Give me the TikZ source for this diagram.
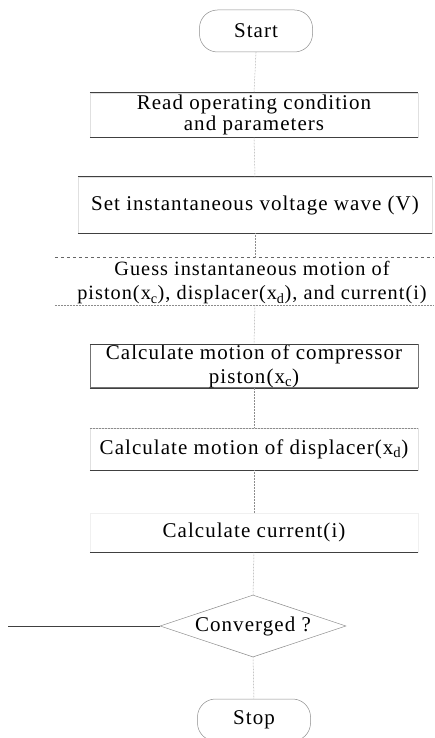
\documentclass[tikz,border=0pt]{standalone}
\usepackage{fontspec}
\setmainfont{Liberation Serif}[LetterSpace=5]
\usetikzlibrary{shapes.geometric}
\begin{document}
\begin{tikzpicture}[x=1pt,y=-1pt,
  lbl/.style={font=\fontsize{21}{24}\selectfont, align=center, inner sep=0pt, text=black},
  boxshape/.style={draw=black!12, line width=0.5pt, rectangle, inner sep=0pt, font=\fontsize{21}{24}\selectfont, align=center, text=black},
  term/.style={draw=black!45, line width=0.5pt, rounded corners=18pt, rectangle, inner sep=0pt, minimum width=113pt, minimum height=42pt, font=\fontsize{21}{24}\selectfont, text=black},
  dec/.style={draw=black!45, line width=0.5pt, diamond, aspect=3, inner sep=0pt, minimum width=186pt, minimum height=62pt, font=\fontsize{21}{24}\selectfont, text=black},
  flow/.style={draw=black!45, line width=0.5pt, densely dotted},
  edge/.style={draw=black!75, line width=0.7pt}]
\useasboundingbox (0,0) rectangle (434,738);

% terminals and steps
\node[term] (start) at (256,31) {Start};

\node[boxshape, minimum width=328pt, minimum height=44pt, font=\fontsize{21}{19}\selectfont] (read) at (254,115) {Read operating condition\\and parameters};
\draw[edge] (read.north west) -- (read.north east);
\draw[edge] (read.south west) -- (read.south east);

\node[boxshape, minimum width=354pt, minimum height=56pt] (volt) at (255,205) {Set instantaneous voltage wave (V)};
\draw[edge] (volt.north west) -- (volt.north east);
\draw[edge] (volt.south west) -- (volt.south east);

\node[boxshape, draw=none, minimum width=379pt, minimum height=47pt] (guess) at (244.5,281.5) {};
\node[lbl, font=\fontsize{20.3}{24}\selectfont] (guesst) at (252,283) {Guess instantaneous motion of\\piston(x\textsubscript{c}), displacer(x\textsubscript{d}), and current(i)};
\draw[edge, black!60, dashed] (guess.north west) -- (guess.north east);
\draw[flow] (guess.south west) -- (guess.south east);

\node[boxshape, draw=black!55, minimum width=328pt, minimum height=42pt] (comp) at (254,366) {Calculate motion of compressor\\piston(x\textsubscript{c})};
\draw[edge] (comp.north west) -- (comp.north east);
\draw[edge] (comp.south west) -- (comp.south east);

\node[boxshape, minimum width=328pt, minimum height=42pt] (disp) at (254,449) {Calculate motion of displacer(x\textsubscript{d})};
\draw[flow] (disp.north west) -- (disp.north east);
\draw[edge] (disp.south west) -- (disp.south east);

\node[boxshape, draw=black!6, minimum width=328pt, minimum height=39pt] (curr) at (254,532.5) {Calculate current(i)};
\draw[edge] (curr.south west) -- (curr.south east);

\node[dec] (conv) at (253,626) {Converged ?};

\node[term] (stop) at (254,720) {Stop};

% connectors
\draw[flow] (start.south) -- (read.north);
\draw[flow] (read.south) -- (volt.north);
\draw[flow] (volt.south) -- (volt.south |- guess.north);
\draw[flow] (volt.south |- guess.south) -- (comp.north);
\draw[flow] (comp.south) -- (disp.north);
\draw[flow] (disp.south) -- (curr.north);
\draw[flow] (curr.south) -- (conv.north);
\draw[flow] (conv.south) -- (stop.north);
\coordinate (fb) at (8,626);
\draw[edge] (conv.west) -- (fb);
\end{tikzpicture}
\end{document}
